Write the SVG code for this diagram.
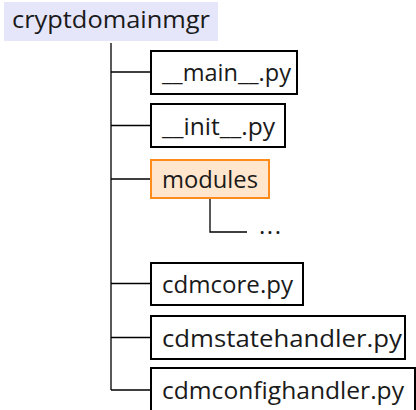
<svg xmlns="http://www.w3.org/2000/svg" width="416" height="410" viewBox="0 0 416 410">
<style>
text{font-family:"Open Sans","DejaVu Sans",sans-serif;font-size:24px;fill:#1a1a1a}
.file{fill:#ffffff;stroke:#000000;stroke-width:2}
.dir{fill:#ffe6cc;stroke:#ff8c1a;stroke-width:2}
.con{fill:none;stroke:#000000;stroke-width:1.3}
</style>
<rect width="416" height="410" fill="#ffffff"/>
<g id="root"><rect x="4" y="2" width="214" height="39" fill="#e6e6fa"/><text x="12" y="28" textLength="198" lengthAdjust="spacingAndGlyphs">cryptdomainmgr</text></g>
<g id="connectors">
<path class="con" d="M111,43 V390 M111,72 H151 M111,125.5 H151 M111,179 H151 M111,283.5 H151 M111,337.5 H151 M111,390 H151"/>
<path class="con" d="M210,199 V232 H247"/>
</g>
<g id="main"><rect class="file" x="151" y="51" width="146" height="43"/><text x="162" y="81" textLength="129" lengthAdjust="spacingAndGlyphs">__main__.py</text></g>
<g id="init"><rect class="file" x="151" y="104" width="134" height="43"/><text x="162" y="135" textLength="113" lengthAdjust="spacingAndGlyphs">__init__.py</text></g>
<g id="modules"><rect class="dir" x="151" y="160" width="118" height="38"/><text x="162" y="188" textLength="96" lengthAdjust="spacingAndGlyphs">modules</text></g>
<g id="more"><text x="259" y="234" textLength="22" lengthAdjust="spacing">...</text></g>
<g id="cdmcore"><rect class="file" x="151" y="263" width="152" height="42"/><text x="162" y="293" textLength="131" lengthAdjust="spacingAndGlyphs">cdmcore.py</text></g>
<g id="cdmstatehandler"><rect class="file" x="151" y="316" width="254" height="43"/><text x="162" y="347" textLength="240" lengthAdjust="spacingAndGlyphs">cdmstatehandler.py</text></g>
<g id="cdmconfighandler"><rect class="file" x="151" y="368" width="264" height="50"/><text x="162" y="399" textLength="242" lengthAdjust="spacingAndGlyphs">cdmconfighandler.py</text></g>
</svg>
